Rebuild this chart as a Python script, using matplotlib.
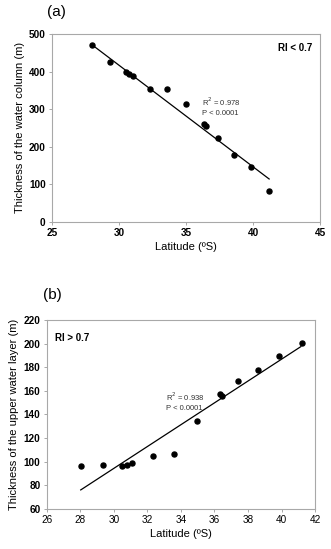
import matplotlib
matplotlib.use('Agg')
import matplotlib.pyplot as plt

plt.rcParams['font.family'] = ['Liberation Sans', 'DejaVu Sans']

# Panel (a): RI < 0.7, thickness of the water column
lat_a = [28.0, 29.33, 30.5, 30.77, 31.05, 32.34, 33.58, 34.97, 36.34, 36.49, 37.41, 38.58, 39.87, 41.19]
thick_a = [471, 425, 400, 393, 387, 354, 353, 315, 260, 255, 223, 177, 145, 82]
fit_a_x = [28.0, 41.2]
fit_a_y = [471, 114]

# Panel (b): RI > 0.7, thickness of the upper water layer
lat_b = [28.03, 29.34, 30.49, 30.79, 31.07, 32.36, 33.61, 34.98, 36.33, 36.45, 37.43, 38.6, 39.87, 41.2]
thick_b = [96.7, 97.5, 96.7, 97.5, 98.7, 104.6, 106.9, 134.6, 157.7, 155.8, 168.5, 177.5, 189.7, 200.4]
fit_b_x = [28.03, 41.15]
fit_b_y = [76.1, 197.5]

spine_col = '#a8a8a8'


def style_axes(ax):
    for s in ax.spines.values():
        s.set_color(spine_col)
        s.set_linewidth(0.8)
    ax.tick_params(direction='out', length=2.5, width=0.7, color=spine_col,
                   labelsize=7.2, pad=2)


fig = plt.figure(figsize=(3.31, 5.49), dpi=100)

# (a)
ax1 = fig.add_axes([0.157, 0.596, 0.81, 0.342])
ax1.scatter(lat_a, thick_a, s=13, color='black', zorder=3)
ax1.plot(fit_a_x, fit_a_y, color='black', lw=0.9)
ax1.set_xlim(25, 45)
ax1.set_ylim(0, 500)
ax1.set_xticks([25, 30, 35, 40, 45])
ax1.set_yticks([0, 100, 200, 300, 400, 500])
style_axes(ax1)
for lbl in ax1.get_xticklabels() + ax1.get_yticklabels():
    lbl.set_fontweight('bold')
ax1.set_xlabel('Latitude (ºS)', fontsize=8, labelpad=3)
ax1.set_ylabel('Thickness of the water column (m)', fontsize=8, labelpad=3)
ax1.text(36.2, 335, 'R$^2$ = 0.978\nP < 0.0001', fontsize=5.5, color='#333333',
         va='top', linespacing=1.3)
ax1.text(0.97, 0.95, 'RI < 0.7', transform=ax1.transAxes, fontsize=7,
         fontweight='bold', ha='right', va='top')
fig.text(0.17, 0.978, '(a)', fontsize=11, ha='center', va='center')

# (b)
ax2 = fig.add_axes([0.141, 0.073, 0.811, 0.344])
ax2.scatter(lat_b, thick_b, s=13, color='black', zorder=3)
ax2.plot(fit_b_x, fit_b_y, color='black', lw=0.9)
ax2.set_xlim(26, 42)
ax2.set_ylim(60, 220)
ax2.set_xticks(range(26, 43, 2))
ax2.set_yticks(range(60, 221, 20))
style_axes(ax2)
for lbl in ax2.get_yticklabels():
    lbl.set_fontweight('bold')
ax2.set_xlabel('Latitude (ºS)', fontsize=8, labelpad=3)
ax2.set_ylabel('Thickness of the upper water layer (m)', fontsize=8, labelpad=3)
ax2.text(33.1, 160, 'R$^2$ = 0.938\nP < 0.0001', fontsize=5.5, color='#333333',
         va='top', linespacing=1.3)
ax2.text(0.03, 0.93, 'RI > 0.7', transform=ax2.transAxes, fontsize=7,
         fontweight='bold', ha='left', va='top')
fig.text(0.157, 0.463, '(b)', fontsize=11, ha='center', va='center')

fig.savefig('out.png', dpi=100)
plt.close(fig)
